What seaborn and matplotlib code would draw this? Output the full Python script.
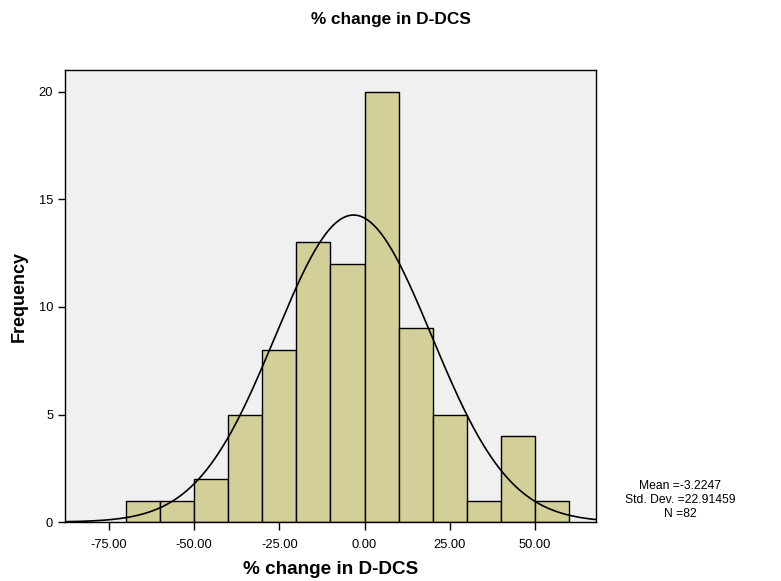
import numpy as np
import pandas as pd
import matplotlib
matplotlib.use("Agg")
import matplotlib.pyplot as plt
import seaborn as sns

bin_edges = [-70, -60, -50, -40, -30, -20, -10, 0, 10, 20, 30, 40, 50, 60]
counts = [1, 1, 2, 5, 8, 13, 12, 20, 9, 5, 1, 4, 1]
mean_val = -3.2247
std_val = 22.91459
n_val = 82
xtick_vals = [-75, -50, -25, 0, 25, 50]
xtick_labels = ["-75.00", "-50.00", "-25.00", "0.00", "25.00", "50.00"]
ytick_vals = [0, 5, 10, 15, 20]

sns.set_theme(style="white")
plt.rcParams['font.family'] = ['Liberation Sans', 'DejaVu Sans']
plt.rcParams['text.color'] = 'black'
plt.rcParams['axes.labelcolor'] = 'black'
plt.rcParams['xtick.color'] = 'black'
plt.rcParams['ytick.color'] = 'black'

centers = [(a + b) / 2 for a, b in zip(bin_edges[:-1], bin_edges[1:])]
df = pd.DataFrame({"x": centers, "w": counts})

fig = plt.figure(figsize=(7.81, 5.81), dpi=100)
ax = fig.add_axes([0.0832, 0.1015, 0.763 - 0.0832, 0.8795 - 0.1015])
ax.set_facecolor("#F0F0F0")

sns.histplot(data=df, x="x", weights="w", bins=bin_edges, ax=ax,
             color="#D3CF98", edgecolor="black", linewidth=1.0, alpha=1.0)

xs = np.linspace(-88, 68, 400)
bw = bin_edges[1] - bin_edges[0]
ys = n_val * bw / (std_val * np.sqrt(2 * np.pi)) * np.exp(-0.5 * ((xs - mean_val) / std_val) ** 2)
sns.lineplot(x=xs, y=ys, ax=ax, color="black", linewidth=1.2)

ax.set_xlim(-87.9, 67.9)
ax.set_ylim(0, 21.02)
ax.set_xticks(xtick_vals)
ax.set_xticklabels(xtick_labels, fontsize=9.3)
ax.set_yticks(ytick_vals)
ax.set_yticklabels([str(v) for v in ytick_vals], fontsize=9.3)
ax.tick_params(axis="x", direction="out", length=6, width=1, color="black",
               bottom=True, pad=6.5)
ax.tick_params(axis="y", direction="out", length=5, width=1, color="black",
               left=True, pad=3.5)
for s in ax.spines.values():
    s.set_color("black")
    s.set_linewidth(1.0)

ax.set_xlabel("% change in D-DCS", fontsize=13.6, fontweight="bold", labelpad=7)
ax.set_ylabel("Frequency", fontsize=13, fontweight="bold", labelpad=8)
fig.text(0.5, 0.966, "% change in D-DCS", ha="center", va="center",
         fontsize=12.4, fontweight="bold")
fig.text(0.871, 0.139, "Mean =%s\nStd. Dev. =%s\nN =%d" % ("-3.2247", "22.91459", n_val),
         ha="center", va="center", fontsize=8.7, linespacing=1.2)

fig.savefig("out.png", dpi=100)
